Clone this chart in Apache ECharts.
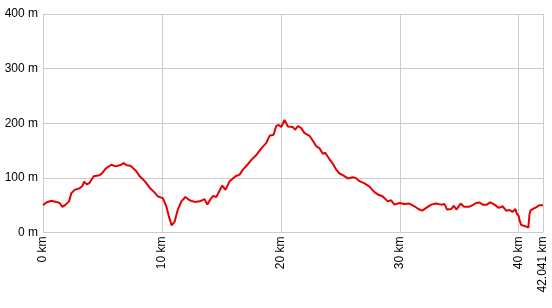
<!DOCTYPE html>
<html>
<head>
<meta charset="utf-8">
<script src="https://cdn.jsdelivr.net/npm/echarts@6/dist/echarts.min.js"></script>
<style>
html,body{margin:0;padding:0;background:#fff;}
#chart{width:552px;height:308px;}
</style>
</head>
<body>
<div id="chart"></div>
<script>
// Distance along route (km)
var distanceKm = [0.00,0.28,0.70,1.12,1.40,1.63,1.91,2.19,2.38,2.66,3.08,3.31,3.45,3.70,3.92,4.26,4.76,4.99,5.27,5.75,6.11,6.45,6.78,7.06,7.36,7.56,7.85,8.13,8.55,8.97,9.39,9.66,10.08,10.37,10.59,10.82,11.07,11.34,11.63,11.97,12.33,12.75,13.17,13.59,13.81,14.15,14.31,14.57,15.07,15.35,15.69,16.19,16.53,16.81,17.23,17.52,17.94,18.36,18.78,19.05,19.39,19.61,19.83,20.03,20.31,20.59,21.01,21.21,21.43,21.71,21.99,22.41,22.69,22.97,23.25,23.53,23.73,24.09,24.37,24.66,24.93,25.21,25.63,26.05,26.30,26.61,27.03,27.45,27.87,28.21,28.57,28.99,29.27,29.55,29.97,30.39,30.81,31.23,31.56,31.88,32.22,32.64,33.06,33.48,33.76,33.98,34.32,34.54,34.76,35.12,35.40,35.82,36.13,36.42,36.70,36.97,37.31,37.60,37.96,38.32,38.66,38.94,39.22,39.50,39.72,39.83,40.00,40.06,40.20,40.48,40.62,40.81,40.90,40.98,41.18,41.46,41.74,42.041];
// Elevation (m)
var elevationM = [50,55,58,56,54,47,51,57,72,78,81,85,93,88,91,103,105,109,117,124,121,123,127,123,122,118,112,103,94,82,73,66,63,48,29,13,20,42,57,65,59,56,57,61,51,63,67,65,86,78,94,103,106,115,125,133,142,154,164,177,179,195,197,193,206,194,193,188,195,191,182,177,168,158,154,144,146,134,126,115,108,105,99,101,100,94,90,84,74,69,66,57,59,51,54,52,53,48,43,40,45,51,53,51,52,42,43,49,42,53,47,47,50,54,55,51,51,55,51,45,48,40,41,38,43,35,30,23,14,12,9,9,32,40,43,46,50,50];
var totalKm = 42.041;
var yTicks = [0,100,200,300,400];

var points = distanceKm.map(function(d,i){return [d, elevationM[i]];});

var chart = echarts.init(document.getElementById('chart'), null, {renderer:'canvas'});
var fontFamily = 'Arial, "Liberation Sans", sans-serif';
chart.setOption({
  animation:false,
  backgroundColor:'#ffffff',
  grid:{left:43, right:9, top:14, bottom:75.5, containLabel:false},
  xAxis:{
    type:'value', min:0, max:totalKm, interval:10,
    axisLine:{show:false}, axisTick:{show:false},
    splitLine:{show:true, lineStyle:{color:'#cccccc', width:1}},
    axisLabel:{
      rotate:90, margin:4, showMinLabel:true, showMaxLabel:true,
      color:'#000', fontSize:12, fontFamily:fontFamily,
      formatter:function(v){ return v + ' km'; }
    }
  },
  yAxis:{
    type:'value', min:yTicks[0], max:yTicks[yTicks.length-1], interval:100,
    axisLine:{show:false}, axisTick:{show:false},
    splitLine:{show:true, lineStyle:{color:'#cccccc', width:1}},
    axisLabel:{
      margin:5, color:'#000', fontSize:12, fontFamily:fontFamily,
      formatter:function(v){ return v + ' m'; }
    }
  },
  series:[{
    type:'line', data:points, showSymbol:false, smooth:false,
    lineStyle:{color:'#e60000', width:2}
  }]
});
</script>
</body>
</html>
